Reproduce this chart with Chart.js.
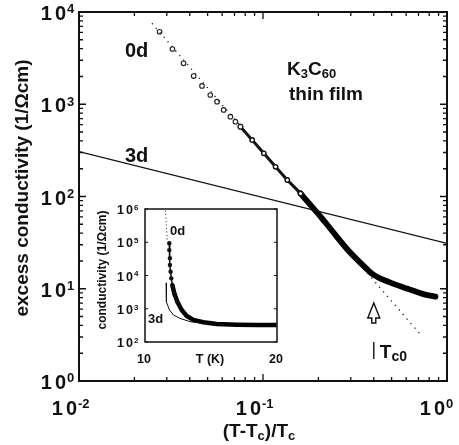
<!DOCTYPE html>
<html>
<head>
<meta charset="utf-8">
<script src="https://cdn.jsdelivr.net/npm/chart.js@4/dist/chart.umd.min.js"></script>
<style>
  html, body { margin: 0; padding: 0; background: #fff; }
  #wrap { position: relative; width: 459px; height: 445px; }
  #main { position: absolute; left: 0; top: 0; }
  #inset { position: absolute; left: 90px; top: 192px; }
</style>
</head>
<body>
<div id="wrap">
  <canvas id="main" width="459" height="445"></canvas>
  <canvas id="inset" width="200" height="180"></canvas>
</div>
<script>
// ---- main plot data: excess conductivity vs reduced temperature ----
const xTickExps = [-2, -1, 0];
const yTickExps = [0, 1, 2, 3, 4];

// theory lines (end points)
const line0dEps = [0.0249, 0.721];
const line0dSig = [7545, 3.15];
const line3dEps = [0.01, 1];
const line3dSig = [306, 31];

// measured points, sparse part (open circles)
const sparseEps = [0.0274, 0.0322, 0.0370, 0.0420, 0.0466, 0.0517, 0.0563, 0.0611, 0.0665, 0.0708, 0.0754];
const sparseSig = [6110, 3970, 2780, 2020, 1578, 1260, 1066, 867, 733, 647, 571];
// denser part
const midEps = [0.0754, 0.0873, 0.101, 0.117, 0.1355, 0.160];
const midSig = [571, 410, 294, 210, 151, 108];
// very dense part (reads as a thick line)
const denseEps = [0.160, 0.181, 0.205, 0.232, 0.286, 0.352, 0.396, 0.485, 0.611, 0.752, 0.866];
const denseSig = [108, 81, 61, 45, 27, 17.7, 14.3, 11.8, 10.0, 8.7, 8.2];

const epsTc0 = 0.40;

// ---- inset data: conductivity vs T ----
const insetYExps = [2, 3, 4, 5, 6];
const insetXTicks = [10, 20];
const inset0dT = [11.55, 11.7];
const inset0dSig = [900000, 100000];
const inset3dT = [11.6, 11.6, 11.65, 11.85, 12.15, 12.65, 13.4, 14.4, 16.0];
const inset3dSig = [6000, 2200, 1600, 920, 650, 515, 410, 365, 335];
const insetT = [11.84, 11.84, 11.89, 11.89, 11.94, 11.99, 12.07, 12.22, 12.45, 12.78, 13.16, 13.66, 14.42, 15.43, 16.95, 18.46, 19.98];
const insetSig = [93000, 58000, 33000, 20700, 13000, 8200, 5200, 2900, 1630, 916, 605, 459, 391, 348, 332, 324, 324];

const FONT = "'Liberation Sans', Arial, Helvetica, sans-serif";

function zip(xs, ys) {
  return xs.map((x, i) => ({ x: x, y: ys[i] }));
}

// digits with a little extra space, the way the old typeset looks
function spacedWidth(ctx, s, gap) {
  let w = 0;
  for (const ch of s) w += ctx.measureText(ch).width + gap;
  return w - gap;
}
function drawSpaced(ctx, s, x, y, gap) {
  for (const ch of s) {
    ctx.fillText(ch, x, y);
    x += ctx.measureText(ch).width + gap;
  }
  return x - gap;
}

// "10" + exponent; the base ends at xEnd
function drawPow(ctx, exp, xEnd, y, size, expSize, gap) {
  ctx.textAlign = 'left';
  ctx.font = 'bold ' + size + 'px ' + FONT;
  const w = spacedWidth(ctx, '10', gap);
  drawSpaced(ctx, '10', xEnd - w, y, gap);
  ctx.font = 'bold ' + expSize + 'px ' + FONT;
  ctx.fillText(String(exp), xEnd + 1, y - size * 0.33);
}

// text with subscripts: parts = [[text, isSub], ...]
function drawSub(ctx, parts, x, y, size, subSize, drop, align) {
  let total = 0;
  for (const p of parts) {
    ctx.font = 'bold ' + (p[1] ? subSize : size) + 'px ' + FONT;
    total += ctx.measureText(p[0]).width;
  }
  if (align === 'center') x -= total / 2;
  ctx.textAlign = 'left';
  for (const p of parts) {
    ctx.font = 'bold ' + (p[1] ? subSize : size) + 'px ' + FONT;
    ctx.fillText(p[0], x, p[1] ? y + drop : y);
    x += ctx.measureText(p[0]).width;
  }
}

// inward log ticks on both sides of one axis
function logTicks(ctx, scale, e0, e1, vertical, a, b, major, minor) {
  for (let e = e0; e < e1; e++) {
    for (let m = 1; m <= 9; m++) {
      const v = m * Math.pow(10, e);
      const p = scale.getPixelForValue(v);
      const len = m === 1 ? major : minor;
      ctx.beginPath();
      if (vertical) {
        ctx.moveTo(p, a); ctx.lineTo(p, a - len);
        ctx.moveTo(p, b); ctx.lineTo(p, b + len);
      } else {
        ctx.moveTo(a, p); ctx.lineTo(a + len, p);
        ctx.moveTo(b, p); ctx.lineTo(b - len, p);
      }
      ctx.stroke();
    }
  }
}

const mainDeco = {
  id: 'mainDeco',
  afterDraw(chart) {
    const ctx = chart.ctx;
    const { left, right, top, bottom } = chart.chartArea;
    const xs = chart.scales.x, ys = chart.scales.y;
    ctx.save();
    ctx.strokeStyle = '#111';
    ctx.fillStyle = '#111';
    ctx.lineWidth = 2;
    ctx.strokeRect(left, top, right - left, bottom - top);
    ctx.lineWidth = 1.3;
    logTicks(ctx, xs, -2, 0, true, bottom, top, 7, 4);
    logTicks(ctx, ys, 0, 4, false, left, right, 7, 4);

    ctx.textBaseline = 'alphabetic';
    for (const e of yTickExps) {
      const py = ys.getPixelForValue(Math.pow(10, e));
      drawPow(ctx, e, 66, py + 8, 20, 13, 3);
    }
    for (const e of xTickExps) {
      const px = xs.getPixelForValue(Math.pow(10, e));
      drawPow(ctx, e, px - 2, 415, 20, 13, 3);
    }

    // axis titles
    drawSub(ctx, [['(T-T', false], ['c', true], [')/T', false], ['c', true]], 259, 437, 19, 13, 3, 'center');
    ctx.save();
    ctx.translate(28, 188);
    ctx.rotate(-Math.PI / 2);
    ctx.font = 'bold 19px ' + FONT;
    ctx.textAlign = 'center';
    ctx.fillText('excess conductivity (1/\u03A9cm)', 0, 0);
    ctx.restore();

    // labels on the plot
    ctx.font = 'bold 20px ' + FONT;
    ctx.textAlign = 'left';
    ctx.fillText('0d', 125, 57);
    ctx.fillText('3d', 125, 162);
    drawSub(ctx, [['K', false], ['3', true], ['C', false], ['60', true]], 287, 75, 19, 13, 3, 'left');
    ctx.font = 'bold 19px ' + FONT;
    ctx.fillText('thin film', 289, 100);

    // T_c0 arrow
    const ax = xs.getPixelForValue(epsTc0);
    ctx.lineWidth = 1.4;
    ctx.beginPath();
    ctx.moveTo(ax, 303);
    ctx.lineTo(ax + 6, 318);
    ctx.lineTo(ax + 2, 318);
    ctx.lineTo(ax + 2, 323);
    ctx.lineTo(ax - 2, 323);
    ctx.lineTo(ax - 2, 318);
    ctx.lineTo(ax - 6, 318);
    ctx.closePath();
    ctx.stroke();
    ctx.beginPath();
    ctx.moveTo(ax, 342);
    ctx.lineTo(ax, 359);
    ctx.stroke();
    drawSub(ctx, [['T', false], ['c0', true]], ax + 6, 358, 19, 14, 3, 'left');
    ctx.restore();
  }
};

const mainChart = new Chart(document.getElementById('main'), {
  type: 'scatter',
  data: {
    datasets: [
      { data: zip(line3dEps, line3dSig), showLine: true, borderColor: '#111', borderWidth: 1.2, pointRadius: 0 },
      { data: zip(line0dEps, line0dSig), showLine: true, borderColor: '#222', borderWidth: 1.3, borderDash: [1.3, 4.7], pointRadius: 0 },
      { data: zip(sparseEps, sparseSig), showLine: false, pointRadius: 2.3, pointBorderWidth: 1.1,
        pointBorderColor: '#222', pointBackgroundColor: '#fff' },
      { data: zip(midEps, midSig), showLine: true, borderColor: '#111', borderWidth: 3, pointRadius: 2.2,
        pointBorderWidth: 1.4, pointBorderColor: '#111', pointBackgroundColor: '#fff' },
      { data: zip(denseEps, denseSig), showLine: true, borderColor: '#000', borderWidth: 5.8, pointRadius: 0,
        cubicInterpolationMode: 'monotone', borderCapStyle: 'round', borderJoinStyle: 'round' }
    ]
  },
  options: {
    responsive: false,
    animation: false,
    events: [],
    layout: { padding: { left: 79, top: 12, right: 12, bottom: 64 } },
    plugins: { legend: { display: false }, tooltip: { enabled: false } },
    scales: {
      x: { type: 'logarithmic', min: 0.01, max: 1, display: false },
      y: { type: 'logarithmic', min: 1, max: 10000, display: false }
    }
  },
  plugins: [mainDeco]
});

const insetDeco = {
  id: 'insetDeco',
  afterDraw(chart) {
    const ctx = chart.ctx;
    const { left, right, top, bottom } = chart.chartArea;
    const xs = chart.scales.x, ys = chart.scales.y;
    ctx.save();
    ctx.strokeStyle = '#111';
    ctx.fillStyle = '#111';
    ctx.lineWidth = 1.5;
    ctx.strokeRect(left, top, right - left, bottom - top);
    ctx.lineWidth = 1;
    for (const e of insetYExps) {
      const py = ys.getPixelForValue(Math.pow(10, e));
      ctx.beginPath();
      ctx.moveTo(left, py); ctx.lineTo(left + 3, py);
      ctx.moveTo(right, py); ctx.lineTo(right - 3, py);
      ctx.stroke();
      drawPow(ctx, e, 43, py + 5, 12.5, 8, 2);
    }
    ctx.font = 'bold 12.5px ' + FONT;
    ctx.textAlign = 'center';
    for (const t of insetXTicks) {
      ctx.fillText(String(t), xs.getPixelForValue(t) - 1, 171);
    }
    ctx.fillText('T (K)', xs.getPixelForValue(15) - 1, 171);

    ctx.save();
    ctx.translate(16, 78);
    ctx.rotate(-Math.PI / 2);
    ctx.font = 'bold 12px ' + FONT;
    ctx.fillText('conductivity (1/\u03A9cm)', 0, 0);
    ctx.restore();

    ctx.font = 'bold 13px ' + FONT;
    ctx.textAlign = 'left';
    ctx.fillText('0d', 80, 43);
    ctx.fillText('3d', 58, 131);
    ctx.restore();
  }
};

const insetChart = new Chart(document.getElementById('inset'), {
  type: 'scatter',
  data: {
    datasets: [
      { data: zip(inset0dT, inset0dSig), showLine: true, borderColor: '#222', borderWidth: 1, borderDash: [1, 2.5], pointRadius: 0 },
      { data: zip(inset3dT, inset3dSig), showLine: true, borderColor: '#111', borderWidth: 1, pointRadius: 0 },
      { data: zip(insetT.slice(0, 9), insetSig.slice(0, 9)), showLine: true, borderColor: '#111', borderWidth: 1.5,
        pointRadius: 2.2, pointBackgroundColor: '#111', pointBorderColor: '#111', pointBorderWidth: 0 },
      { data: zip(insetT.slice(6), insetSig.slice(6)), showLine: true, borderColor: '#000', borderWidth: 4.5,
        pointRadius: 0, borderCapStyle: 'butt' }
    ]
  },
  options: {
    responsive: false,
    animation: false,
    events: [],
    layout: { padding: { left: 55, top: 17, right: 13, bottom: 30 } },
    plugins: { legend: { display: false }, tooltip: { enabled: false } },
    scales: {
      x: { type: 'linear', min: 10, max: 20, display: false },
      y: { type: 'logarithmic', min: 100, max: 1000000, display: false }
    }
  },
  plugins: [insetDeco]
});
</script>
</body>
</html>
